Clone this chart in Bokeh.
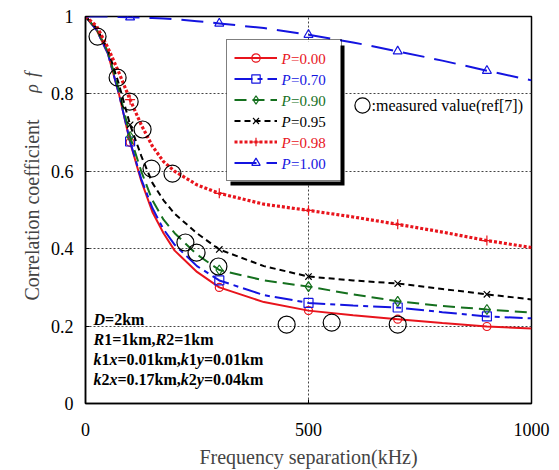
import math
from bokeh.plotting import figure
from bokeh.models import (Legend, LegendItem, Label, BoxAnnotation, FixedTicker,
                          CustomJSTickFormatter, LinearAxis)
from bokeh.embed import file_html
from bokeh.resources import INLINE

# ---------------------------------------------------------------- data
freq = [0, 25, 50, 75, 100, 125, 150, 175, 200, 250, 300, 400, 500, 600, 700, 800, 900, 1000]

rho_p000 = [1.000, 0.965, 0.905, 0.800, 0.675, 0.575, 0.495, 0.440, 0.395, 0.340, 0.300,
            0.262, 0.240, 0.228, 0.218, 0.208, 0.199, 0.194]
rho_p070 = [1.000, 0.965, 0.905, 0.800, 0.677, 0.580, 0.505, 0.450, 0.410, 0.355, 0.318,
            0.280, 0.260, 0.253, 0.248, 0.236, 0.225, 0.220]
rho_p090 = [1.000, 0.967, 0.910, 0.810, 0.690, 0.600, 0.525, 0.475, 0.440, 0.385, 0.345,
            0.318, 0.302, 0.282, 0.264, 0.252, 0.243, 0.235]
rho_p095 = [1.000, 0.970, 0.915, 0.825, 0.720, 0.640, 0.570, 0.525, 0.490, 0.440, 0.398,
            0.355, 0.328, 0.318, 0.310, 0.296, 0.282, 0.269]
rho_p098 = [1.000, 0.975, 0.920, 0.855, 0.785, 0.720, 0.665, 0.625, 0.600, 0.565, 0.543,
            0.515, 0.499, 0.482, 0.463, 0.443, 0.421, 0.403]
rho_p100 = [1.000, 1.000, 1.000, 0.999, 0.998, 0.997, 0.996, 0.995, 0.993, 0.988, 0.982,
            0.970, 0.953, 0.933, 0.910, 0.886, 0.860, 0.835]

marker_freq = [100, 300, 500, 700, 900]

meas_freq = [27, 72, 99, 128, 148, 195, 224, 249, 298, 451, 552, 700]
meas_rho = [0.948, 0.842, 0.780, 0.708, 0.607, 0.594, 0.416, 0.390, 0.354, 0.204, 0.209, 0.204]

series_labels = ["0.00", "0.70", "0.90", "0.95", "0.98", "1.00"]
x_ticks = [0, 500, 1000]
y_ticks = [0, 0.2, 0.4, 0.6, 0.8, 1.0]

param_lines = [
    [("D", "bi"), ("=2km", "b")],
    [("R", "bi"), ("1", "b"), ("=1km,", "b"), ("R", "bi"), ("2", "b"), ("=1km", "b")],
    [("k", "bi"), ("1", "b"), ("x", "bi"), ("=0.01km,", "b"), ("k", "bi"), ("1", "b"),
     ("y", "bi"), ("=0.01km", "b")],
    [("k", "bi"), ("2", "b"), ("x", "bi"), ("=0.17km,", "b"), ("k", "bi"), ("2", "b"),
     ("y", "bi"), ("=0.04km", "b")],
]

SERIF = "Liberation Serif"

# frame geometry (canvas px)
FL, FT, FW, FH = 85, 16, 446, 387
FB = FT + FH
PX_X = 1000 / FW      # data units per pixel
PX_Y = 1.0 / FH


def sx(cx):
    """canvas x (px) -> frame-relative screen x"""
    return cx - FL


def sy(cy):
    """canvas y (px, from top) -> frame-relative screen y (from bottom)"""
    return FB - cy


p = figure(width=559, height=470, x_range=(0, 1000), y_range=(0, 1),
           output_backend="svg", toolbar_location=None,
           min_border_left=FL, min_border_right=559 - FL - FW,
           min_border_top=FT, min_border_bottom=470 - FB)
p.background_fill_color = "white"
p.border_fill_color = "white"
p.outline_line_color = "black"
p.outline_line_width = 1.5

# axes
for ax in (p.xaxis[0], p.yaxis[0]):
    ax.axis_line_color = "black"
    ax.axis_line_width = 1.5
    ax.major_tick_in = 4
    ax.major_tick_out = 0
    ax.minor_tick_line_color = None
    ax.major_tick_line_color = "black"
    ax.major_label_text_font = SERIF
    ax.major_label_text_font_size = "18px"
    ax.major_label_text_color = "black"

p.xaxis.ticker = FixedTicker(ticks=x_ticks)
p.yaxis.ticker = FixedTicker(ticks=y_ticks)
p.yaxis.formatter = CustomJSTickFormatter(code="return Number(tick.toFixed(1)).toString();")
p.xaxis.major_label_standoff = 19
p.yaxis.major_label_standoff = 12
p.xaxis.axis_label = "Frequency separation(kHz)"
p.xaxis.axis_label_text_font = SERIF
p.xaxis.axis_label_text_font_style = "normal"
p.xaxis.axis_label_text_font_size = "20px"
p.xaxis.axis_label_text_line_height = 1.0
p.xaxis.axis_label_standoff = 7

# y title: "Correlation coefficient" with the symbol rho_f placed near the top,
# carried by a bare secondary axis so it sits outside the frame
rho_pos = (FB - 88) * PX_Y
f_pos = (FB - 74) * PX_Y
title_axis = LinearAxis(ticker=FixedTicker(ticks=[rho_pos, f_pos]),
                        major_label_overrides={rho_pos: "ρ", f_pos: "f"},
                        axis_label="Correlation coefficient",
                        axis_label_text_font=SERIF, axis_label_text_font_style="normal",
                        axis_label_text_font_size="20px",
                        axis_label_standoff=-24,
                        major_label_text_font=SERIF, major_label_text_font_style="italic",
                        major_label_text_font_size="18px",
                        major_label_orientation="vertical",
                        major_label_standoff=6,
                        axis_line_color=None, major_tick_line_color=None,
                        minor_tick_line_color=None, major_tick_in=0, major_tick_out=0)
p.add_layout(title_axis, "left")

# dotted grid
p.xgrid.ticker = FixedTicker(ticks=[500])
p.ygrid.ticker = FixedTicker(ticks=[0.2, 0.4, 0.6, 0.8])
for g in (p.xgrid[0], p.ygrid[0]):
    g.grid_line_color = "#444444"
    g.grid_line_dash = "2 2"
    g.grid_line_width = 1

# ---------------------------------------------------------------- curves
styles = [
    (rho_p000, "#e8141c", "solid", 2, "circle", 8),
    (rho_p070, "#1414e0", "18 5 5 5", 2, "square", 9),
    (rho_p090, "#15701e", "12 6", 2, "diamond", 10),
    (rho_p095, "black", "6 4", 2, "x", 9),
    (rho_p098, "#e8141c", "3 2", 3.2, "cross", 10),
    (rho_p100, "#1414e0", "22 10", 2, "triangle", 9),
]

items = []
for (rho, color, dash, lw, marker, msize), lab in zip(styles, series_labels):
    ln = p.line(freq, rho, line_color=color, line_width=lw, line_dash=dash)
    lookup = dict(zip(freq, rho))
    mk = p.scatter(marker_freq, [lookup[f] for f in marker_freq], marker=marker,
                   size=msize, line_color=color, line_width=1.2, fill_color=None)
    items.append(LegendItem(label="P=" + lab, renderers=[ln, mk]))

meas = p.scatter(meas_freq, meas_rho, marker="circle", size=17, line_color="black",
                 line_width=1.2, fill_color=None)

# ---------------------------------------------------------------- legend (P)
LG_LEFT, LG_TOP = 226, 41          # canvas px
LG_PAD, ROW = 7, 21
LG_W = 2 * LG_PAD + 43 + 5 + 52
LG_H = 2 * LG_PAD + ROW * len(items)

# drop shadow and white panel behind the legend (frame px converted to data units)
for off, col in ((4, "black"), (0, "white")):
    p.add_layout(BoxAnnotation(left=(LG_LEFT - FL + off) * PX_X,
                               right=(LG_LEFT - FL + LG_W + off) * PX_X,
                               top=(FB - LG_TOP - off) * PX_Y,
                               bottom=(FB - LG_TOP - LG_H - off) * PX_Y,
                               fill_color=col, fill_alpha=1, line_color=None,
                               level="annotation"))

legend = Legend(items=items, location=(sx(LG_LEFT), sy(LG_TOP + LG_H)),
                padding=LG_PAD, spacing=0, margin=0,
                glyph_width=43, glyph_height=ROW, label_height=ROW, label_width=52,
                label_standoff=5, label_text_alpha=0, label_text_font_size="13px",
                border_line_color="black", border_line_width=1.5,
                background_fill_alpha=0)
p.add_layout(legend)

text_x = LG_LEFT + LG_PAD + 43 + 5
for i, ((rho, color, *_), lab) in enumerate(zip(styles, series_labels)):
    cy = LG_TOP + LG_PAD + ROW * i + ROW / 2
    p.add_layout(Label(x=sx(text_x), y=sy(cy), x_units="screen", y_units="screen",
                       text="P", text_font=SERIF, text_font_style="italic",
                       text_font_size="15px", text_color=color, text_baseline="middle",
                       level="overlay"))
    p.add_layout(Label(x=sx(text_x + 9.5), y=sy(cy), x_units="screen", y_units="screen",
                       text="=" + lab, text_font=SERIF, text_font_size="15px",
                       text_color=color, text_baseline="middle", level="overlay"))

# legend for the measured points (glyph only; text set beside it)
MG = 38
meas_legend = Legend(items=[LegendItem(label=" ", renderers=[meas])],
                     location=(sx(362 - MG / 2), sy(105 + MG / 2)),
                     padding=0, spacing=0, margin=0, glyph_width=MG, glyph_height=MG,
                     label_standoff=0, label_width=0, label_text_alpha=0,
                     border_line_alpha=0, background_fill_alpha=0)
p.add_layout(meas_legend)
p.add_layout(Label(x=sx(371), y=sy(105), x_units="screen", y_units="screen",
                   text=":measured value(ref[7])", text_font=SERIF, text_font_size="16px",
                   text_color="black", text_baseline="middle", level="overlay"))

# ---------------------------------------------------------------- parameter block
BOLD = {"D": 722, "R": 722, "k": 556, "m": 833, "=": 570, ",": 250, ".": 250,
        "x": 500, "y": 500}
BOLD_IT = {"D": 722, "R": 667, "k": 500, "x": 500, "y": 444}
FS = 16
line_y = [319, 339, 359, 379]
for segs, cy in zip(param_lines, line_y):
    x = 93
    for txt, st in segs:
        table = BOLD_IT if st == "bi" else BOLD
        p.add_layout(Label(x=sx(x), y=sy(cy), x_units="screen", y_units="screen",
                           text=txt, text_font=SERIF,
                           text_font_style="bold italic" if st == "bi" else "bold",
                           text_font_size=f"{FS}px", text_color="black",
                           text_baseline="middle"))
        x += sum(table.get(c, 500) for c in txt) * FS / 1000

open("out.html", "w").write(file_html(p, INLINE))
